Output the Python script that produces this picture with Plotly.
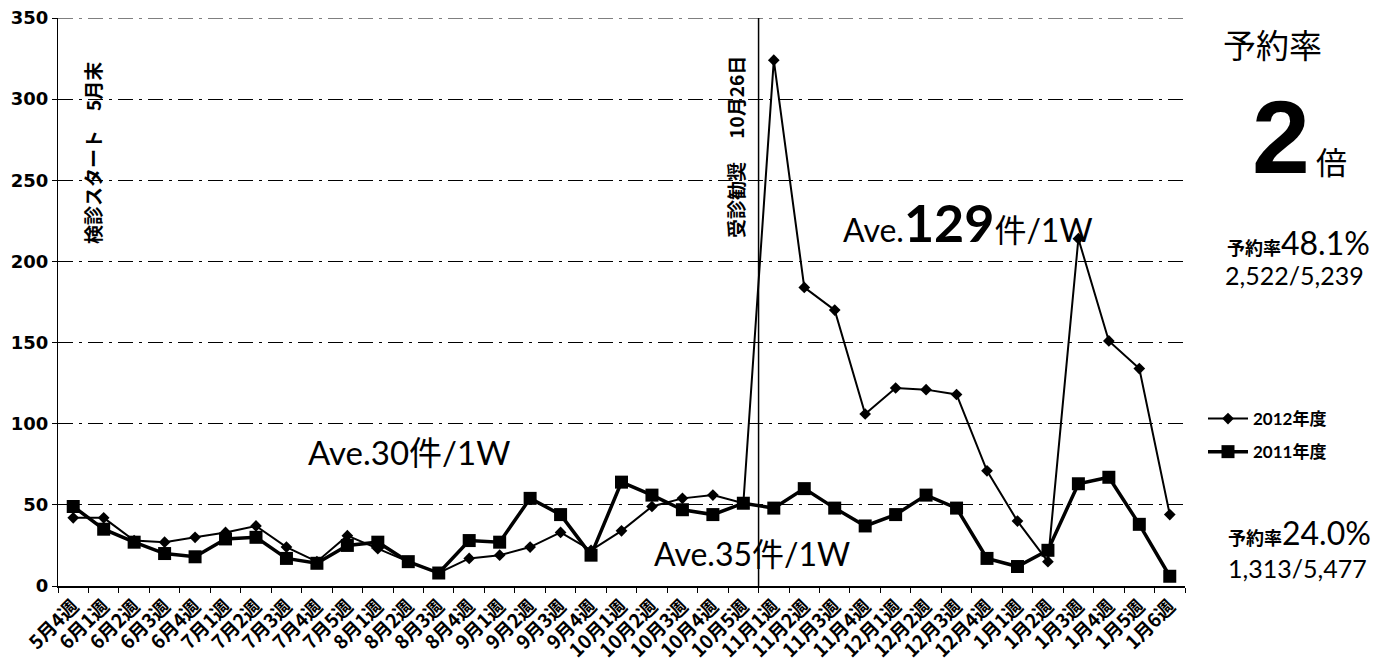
import plotly.graph_objects as go

weeks = ["5月4週","6月1週","6月2週","6月3週","6月4週","7月1週","7月2週","7月3週","7月4週","7月5週",
         "8月1週","8月2週","8月3週","8月4週","9月1週","9月2週","9月3週","9月4週","10月1週","10月2週",
         "10月3週","10月4週","10月5週","11月1週","11月2週","11月3週","11月4週","12月1週","12月2週","12月3週",
         "12月4週","1月1週","1月2週","1月3週","1月4週","1月5週","1月6週"]
fy2012 = [42,42,28,27,30,33,37,24,15,31,23,15,8,17,19,24,33,22,34,49,54,56,51,
          324,184,170,106,122,121,118,71,40,15,214,151,134,44]
fy2011 = [49,35,27,20,18,29,30,17,14,25,27,15,8,28,27,54,44,19,64,56,47,44,51,
          48,60,48,37,44,56,48,17,12,22,63,67,38,6]
y_ticks = [0,50,100,150,200,250,300,350]

FONT = "Lato, 'Noto Sans CJK JP', sans-serif"
CJK = "'Noto Sans CJK JP', sans-serif"

# plot-area geometry in pixels (for placing side texts)
L, R, T, B = 58, 1185, 18, 586
def px(x): return (x - L) / (R - L)
def py(y): return (B - y) / (B - T)

fig = go.Figure()
fig.add_trace(go.Scatter(x=weeks, y=fy2012, mode="lines+markers", name="2012年度",
                         legendgroup="a",
                         line=dict(color="black", width=2),
                         marker=dict(symbol="diamond", size=9, color="black")))
fig.add_trace(go.Scatter(x=weeks, y=fy2011, mode="lines+markers", name="2011年度",
                         legendgroup="b",
                         line=dict(color="black", width=3.5),
                         marker=dict(symbol="square", size=13, color="black")))

# vertical line at 10/26
fig.add_shape(type="line", xref="x", yref="paper", x0=22.5, x1=22.5, y0=0, y1=1,
              line=dict(color="black", width=1.5))
# top gridline at the range edge
fig.add_shape(type="line", xref="paper", yref="y", x0=0, x1=1, y0=y_ticks[-1], y1=y_ticks[-1],
              line=dict(color="black", width=1, dash="longdashdot"))

def note(text, x, y, size, family=FONT, angle=0):
    return dict(text=text, xref="paper", yref="paper", x=px(x), y=py(y),
                xanchor="center", yanchor="middle", textangle=angle, showarrow=False,
                font=dict(family=family, size=size, color="black"))

ann = [
    note("<b>検診スタート\u30005月末</b>", 93, 153, 19, CJK, -90),
    note("<b>受診勧奨\u3000 10月26日</b>", 735, 147, 19, CJK, -90),
    note("Ave.30件/1W", 409, 452, 33),
    note("Ave.35件/1W", 752, 553, 32),
    note("Ave.<span style='font-size:52px;font-weight:bold'>129</span>件/1W", 968, 222, 32),
    note("予約率", 1272, 44, 33, CJK),
    note("<b>2</b>", 1281, 137, 104, "'Liberation Sans', Arial"),
    note("倍", 1331, 160, 31, CJK),
    note("<span style='font-size:18px;font-weight:bold'>予約率</span>48.1%", 1298, 243, 32),
    note("2,522/5,239", 1294, 275, 25),
    note("<span style='font-size:18px;font-weight:bold'>予約率</span>24.0%", 1300, 532, 32),
    note("1,313/5,477", 1297, 568, 25),
]

fig.update_layout(
    width=1393, height=665,
    margin=dict(l=L, r=1393 - R, t=T, b=665 - B),
    paper_bgcolor="white", plot_bgcolor="white",
    font=dict(family=FONT, color="black"),
    annotations=ann,
    showlegend=True,
    legend=dict(x=px(1203), y=py(401), xanchor="left", yanchor="top",
                font=dict(family=FONT, size=17, color="black", weight="bold"),
                itemwidth=40, tracegroupgap=8, bgcolor="rgba(0,0,0,0)"),
    xaxis=dict(type="category", range=[-0.5, 36.5], tickangle=-45,
               tickfont=dict(family=CJK, size=19, color="black", weight="bold"),
               showgrid=False, showline=True, linecolor="black", linewidth=1.5,
               ticks="outside", tickson="boundaries", ticklen=5, tickcolor="black",
               automargin=False),
    yaxis=dict(range=[0, 350], tickvals=y_ticks,
               tickfont=dict(family="'DejaVu Sans'", size=18, color="black", weight="bold"),
               showgrid=True, gridcolor="black", gridwidth=1, griddash="longdashdot",
               zeroline=False, showline=True, linecolor="black", linewidth=1,
               ticks="outside", ticklen=5, tickcolor="black", automargin=False),
)

fig.write_html("out.html")
